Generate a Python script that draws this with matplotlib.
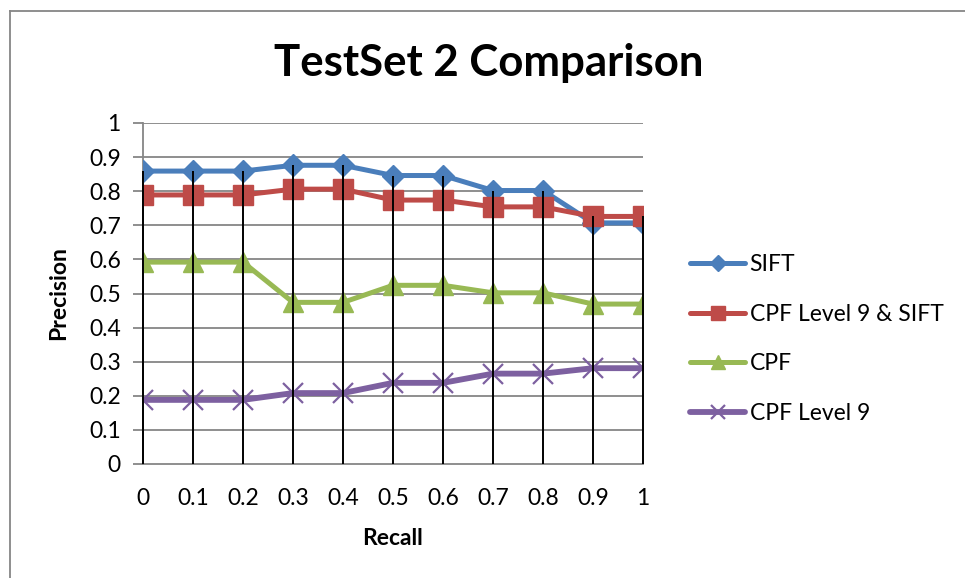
import numpy as np
import matplotlib
matplotlib.use("Agg")
import matplotlib.pyplot as plt
from matplotlib.lines import Line2D

# Datos de precisión vs. recall
recall = [0, 0.1, 0.2, 0.3, 0.4, 0.5, 0.6, 0.7, 0.8, 0.9, 1]
recall_labels = ["0", "0.1", "0.2", "0.3", "0.4", "0.5", "0.6", "0.7", "0.8", "0.9", "1"]
sift = [0.859, 0.859, 0.859, 0.876, 0.876, 0.846, 0.846, 0.802, 0.802, 0.707, 0.707]
cpf9_sift = [0.789, 0.789, 0.789, 0.806, 0.806, 0.774, 0.774, 0.754, 0.754, 0.726, 0.726]
cpf = [0.592, 0.592, 0.592, 0.474, 0.474, 0.524, 0.524, 0.502, 0.502, 0.469, 0.469]
cpf9 = [0.188, 0.188, 0.188, 0.208, 0.208, 0.238, 0.238, 0.265, 0.265, 0.281, 0.281]
y_ticks = [0, 0.1, 0.2, 0.3, 0.4, 0.5, 0.6, 0.7, 0.8, 0.9, 1]
y_labels = ["0", "0.1", "0.2", "0.3", "0.4", "0.5", "0.6", "0.7", "0.8", "0.9", "1"]

plt.rcParams['font.family'] = ['Lato', 'DejaVu Sans']
FS = 16.5

fig = plt.figure(figsize=(9.65, 5.78), dpi=100)
ax = fig.add_axes([143 / 965, 1 - 464 / 578, 500 / 965, 341 / 578])

grid_color = '#868686'

# Rejilla horizontal
for yv in y_ticks[1:]:
    ax.axhline(yv, color=grid_color, lw=1.3, zorder=1)

# Series
ax.plot(recall, sift, color='#4A7EBB', lw=3.6, marker='D', ms=11,
        label='SIFT', zorder=3, solid_capstyle='round')
ax.plot(recall, cpf9_sift, color='#BE4B48', lw=3.6, marker='s', ms=14,
        label='CPF Level 9 & SIFT', zorder=3, solid_capstyle='round')
ax.plot(recall, cpf, color='#98B954', lw=3.6, marker='^', ms=14,
        label='CPF', zorder=3, solid_capstyle='round')
ax.plot(recall, cpf9, color='#7D60A0', lw=4.2, marker='x', ms=14, mew=1.6,
        label='CPF Level 9', zorder=3, solid_capstyle='round')

# Líneas de caída desde el punto más alto hasta el eje
tops = np.max([sift, cpf9_sift, cpf, cpf9], axis=0)
ax.vlines(recall, 0, tops, color='black', lw=1.4, zorder=4, clip_on=False)

ax.set_xlim(0, 1)
ax.set_ylim(0, 1)
ax.set_yticks(y_ticks)
ax.set_yticklabels(y_labels)
ax.set_xticks(recall)
ax.set_xticklabels(recall_labels)
ax.tick_params(axis='y', length=7, width=1.3, color=grid_color, labelsize=FS, pad=9)
ax.tick_params(axis='x', length=0, labelsize=FS, pad=17)

for side in ['top', 'right']:
    ax.spines[side].set_visible(False)
ax.spines['left'].set_color(grid_color)
ax.spines['left'].set_linewidth(1.3)
ax.spines['bottom'].set_color(grid_color)
ax.spines['bottom'].set_linewidth(1.3)

ax.set_xlabel('Recall', fontsize=FS, fontweight='bold', labelpad=14)
ax.set_ylabel('Precision', fontsize=FS, fontweight='bold', labelpad=14)

fig.text(489 / 965, 1 - 63 / 578, 'TestSet 2 Comparison', ha='center', va='center',
         fontsize=31.5, fontweight='bold')

leg = ax.legend(loc='center left', bbox_to_anchor=((690 - 143) / 500, (464 - 339) / 341),
                frameon=False, fontsize=FS, handlelength=2.4, handletextpad=0.2,
                labelspacing=1.25, borderaxespad=0, borderpad=0, markerscale=0.75)

# Marco del gráfico
fig.add_artist(Line2D([10 / 965, 10 / 965], [0, 1 - 11 / 578], color='#868686', lw=1.3))
fig.add_artist(Line2D([10 / 965, 1], [1 - 11 / 578, 1 - 11 / 578], color='#868686', lw=1.3))

fig.savefig('out.png', dpi=100)
